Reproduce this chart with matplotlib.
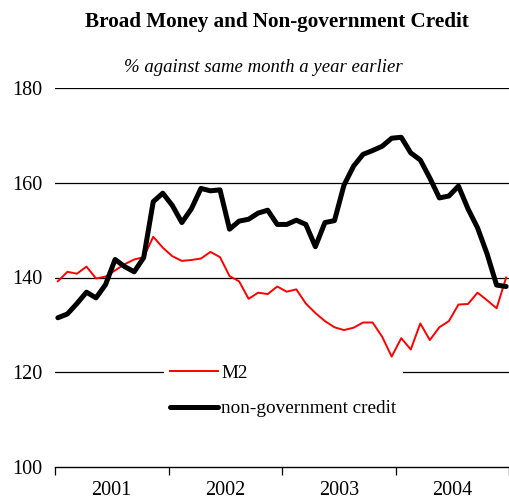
import matplotlib
matplotlib.use('Agg')
import matplotlib.pyplot as plt
import numpy as np

plt.rcParams['font.family'] = ['Liberation Serif', 'DejaVu Serif']

############# data (monthly, Jan 2001 - Dec 2004) ###############
years = ['2001', '2002', '2003', '2004']
credit = [131.5, 132.3, 134.5, 136.9, 135.7, 138.5, 143.8, 142.3, 141.2, 144.2, 156.0, 157.8,
          155.2, 151.6, 154.5, 158.8, 158.3, 158.5, 150.2, 151.9, 152.3, 153.6, 154.2, 151.2,
          151.2, 152.1, 151.2, 146.5, 151.6, 152.0, 159.5, 163.5, 166.0, 166.8, 167.7, 169.4,
          169.6, 166.3, 164.8, 161.0, 156.8, 157.2, 159.3, 154.5, 150.5, 145.0, 138.4, 138.1]
m2 = [139.2, 141.2, 140.8, 142.3, 139.8, 140.2, 141.5, 142.8, 143.8, 144.3, 148.6, 146.3,
      144.5, 143.5, 143.7, 144.0, 145.4, 144.3, 140.3, 139.2, 135.5, 136.8, 136.5, 138.1,
      137.0, 137.5, 134.5, 132.5, 130.8, 129.5, 128.9, 129.4, 130.5, 130.5, 127.5, 123.3,
      127.2, 124.8, 130.3, 126.8, 129.5, 130.8, 134.3, 134.4, 136.8, 135.2, 133.5, 140.0]
yticks = [100, 120, 140, 160, 180]

############# figure ###############
W, H = 509, 501
fig = plt.figure(figsize=(W/100, H/100), dpi=100)
ax = fig.add_axes([55/W, (H-467)/H, (509-55)/W, (467-88)/H])

months = np.arange(len(m2))
x0 = -0.3
x1 = len(m2) - 0.7

ax.plot(months, m2, color='#ff0000', lw=1.4, solid_joinstyle='round', label='M2', zorder=3)
ax.plot(months, credit, color='black', lw=3.6, solid_joinstyle='round', solid_capstyle='round',
        label='non-government credit', zorder=4)

ax.set_xlim(x0, x1)
ax.set_ylim(100, 180)

##### grid lines #####
for v in yticks[1:]:
    ax.axhline(v, color='black', lw=0.9, zorder=1)

##### axes styling #####
for s in ['top', 'right', 'left']:
    ax.spines[s].set_visible(False)
ax.spines['bottom'].set_linewidth(1.0)

ax.set_yticks(yticks)
ax.set_yticklabels([str(v) for v in yticks], fontsize=14.5)
ax.tick_params(axis='y', length=0, pad=9)

step = (x1 - x0) / len(years)
ax.set_xticks([x0 + k*step for k in range(len(years)+1)])
ax.set_xticklabels([])
ax.tick_params(axis='x', which='major', direction='out', length=6, width=0.9)
ax.set_xticks([x0 + (k+0.5)*step for k in range(len(years))], minor=True)
ax.set_xticklabels(years, minor=True, fontsize=14.5)
ax.tick_params(axis='x', which='minor', length=0, pad=10)

##### legend #####
leg = ax.legend(loc='upper left', bbox_to_anchor=(154/W, (H-348)/H), bbox_transform=fig.transFigure,
                fontsize=13.8, frameon=True, facecolor='white', edgecolor='none', framealpha=1,
                handlelength=2.5, handletextpad=0.15, labelspacing=0.95, borderpad=0.35, fancybox=False)
leg.set_zorder(5)

##### titles #####
fig.text(0.543, 1 - 22/H, 'Broad Money and Non-government Credit', ha='center', va='center',
         fontsize=15.2, fontweight='bold')
fig.text(0.518, 1 - 67/H, '% against same month a year earlier', ha='center', va='center',
         fontsize=13.5, style='italic')

plt.savefig('out.png', dpi=100)
